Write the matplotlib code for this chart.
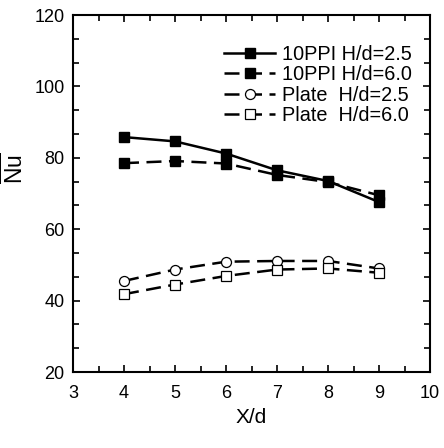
import matplotlib
matplotlib.use("Agg")
import matplotlib.pyplot as plt
from matplotlib.ticker import MultipleLocator

plt.rcParams['font.family'] = ['Liberation Sans', 'DejaVu Sans']
plt.rcParams['mathtext.fontset'] = 'custom'
plt.rcParams['mathtext.rm'] = 'Liberation Sans'
plt.rcParams['mathtext.it'] = 'Liberation Sans'

x_d = [4, 5, 6, 7, 8, 9]
ppi_25 = [85.8, 84.6, 81.2, 76.5, 73.5, 67.6]
ppi_60 = [78.5, 79.1, 78.4, 75.2, 73.2, 69.5]
plate_25 = [45.5, 48.7, 50.9, 51.1, 51.1, 49.0]
plate_60 = [41.8, 44.5, 46.9, 48.7, 49.0, 47.8]

labels = ["10PPI H/d=2.5", "10PPI H/d=6.0", "Plate  H/d=2.5", "Plate  H/d=6.0"]

fig = plt.figure(figsize=(4.44, 4.48), dpi=100)
ax = fig.add_axes([73/444, 1-372/448, (430-73)/444, (372-15)/448])

lw = 1.8
dash = (0, (6, 3))
ms = 7.2
ax.plot(x_d, ppi_25, color='black', lw=lw, ls='-', marker='s', ms=ms,
        mfc='black', mec='black', label=labels[0])
ax.plot(x_d, ppi_60, color='black', lw=lw, ls=dash, marker='s', ms=ms,
        mfc='black', mec='black', label=labels[1])
ax.plot(x_d, plate_25, color='black', lw=lw, ls=dash, marker='o', ms=ms,
        mfc='white', mec='black', mew=0.9, label=labels[2])
ax.plot(x_d, plate_60, color='black', lw=lw, ls=dash, marker='s', ms=ms,
        mfc='white', mec='black', mew=0.9, label=labels[3])

ax.set_xlim(3, 10)
ax.set_ylim(20, 120)
ax.xaxis.set_major_locator(MultipleLocator(1))
ax.xaxis.set_minor_locator(MultipleLocator(0.5))
ax.yaxis.set_major_locator(MultipleLocator(20))
ax.yaxis.set_minor_locator(MultipleLocator(20/3))
ax.tick_params(which='both', direction='in', top=True, right=True, width=1.2)
ax.tick_params(which='major', length=5, labelsize=13, pad=6)
ax.tick_params(axis='x', which='major', pad=9)
ax.tick_params(which='minor', length=4)
for s in ax.spines.values():
    s.set_linewidth(1.5)

ax.set_xlabel('X/d', fontsize=15, labelpad=5)
ax.set_ylabel(r'$\overline{\mathrm{Nu}}$', fontsize=16.5)
ax.yaxis.set_label_coords(-0.125, 0.57)

leg = ax.legend(loc='upper right', frameon=False, fontsize=14.3,
                handlelength=2.6, handletextpad=0.35, labelspacing=0.07,
                borderaxespad=0.3, bbox_to_anchor=(0.989, 0.955))

fig.savefig('out.png', dpi=100)
